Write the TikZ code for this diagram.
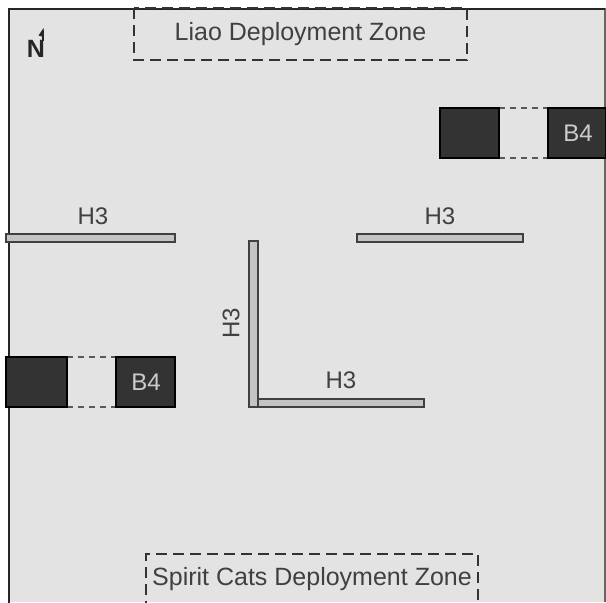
\documentclass[tikz,border=0pt]{standalone}
\usepackage{fontspec}
\setmainfont{Liberation Sans}
\usepackage{tikz}
\usetikzlibrary{arrows}

\definecolor{boardgray}{HTML}{E3E3E3}
\definecolor{wallgray}{HTML}{C4C4C4}
\definecolor{blockgray}{HTML}{333333}
\definecolor{textgray}{HTML}{404040}

\begin{document}
\begin{tikzpicture}[x=1pt,y=-1pt]

\tikzset{board/.style = {fill=boardgray}}
\tikzset{wall/.style = {draw=black!75,fill=wallgray,line width=2.4pt}}
\tikzset{block/.style = {draw=black,fill=blockgray,line width=1.6pt}}
\tikzset{gap/.style = {draw=black!65,line width=2.6pt,dash pattern=on 6pt off 5pt}}
\tikzset{zone/.style = {draw=black!80,line width=2.8pt,dash pattern=on 11pt off 6pt}}
\tikzset{label/.style = {text=textgray,font=\fontsize{24}{24}\selectfont,inner sep=0pt}}

\useasboundingbox (0,0) rectangle (606,603);

% board
\fill[white] (0,0) rectangle (606,603);
\fill[board] (8,8) rectangle (605,602);
\draw[black!60,line width=1.2pt] (605,8) -- (605,602);
\draw[black!85,line width=2.6pt] (9,603) -- (9,9) -- (605,9);

% north
\node[font=\bfseries\fontsize{25}{25}\selectfont,text=black!85,inner sep=0pt] (north) at (36,48.5) {N};
\draw[black!85,line width=2.4pt] (43,41) -- (43,30);
\fill[black!85] (43.5,28) -- (38.5,35.5) -- (43.5,37) -- cycle;

% zones
\draw[zone] (134,8) rectangle (467,60);
\node[label,font=\fontsize{25}{25}\selectfont] (liao) at (300.5,34) {Liao Deployment Zone};
\draw[zone] (146,612) -- (146,554) -- (478,554) -- (478,612);
\node[label,font=\fontsize{25}{25}\selectfont] (spirit) at (312,579) {Spirit Cats Deployment Zone};

% bunkers
\draw[gap] (499,108) -- (548,108);
\draw[gap] (499,158) -- (548,158);
\draw[block] (440,108) rectangle (499,158);
\draw[block] (548,108) rectangle (606,158);
\node[label,text=black!20] (b4a) at (578,133) {B4};

\draw[gap] (67,357) -- (116,357);
\draw[gap] (67,407) -- (116,407);
\draw[block] (6,357) rectangle (67,407);
\draw[block] (116,357) rectangle (175,407);
\node[label,text=black!20] (b4b) at (146,382) {B4};

% walls
\draw[wall] (6,234) rectangle (175,242);
\draw[wall] (357,234) rectangle (523,242);
\draw[wall] (249,241) rectangle (258,407);
\draw[wall] (258,399) rectangle (424,407);

% labels
\node[label] (h3a) at (93,216) {H3};
\node[label] (h3b) at (440,216) {H3};
\node[label,rotate=90] (h3c) at (231,323) {H3};
\node[label] (h3d) at (341,380) {H3};

\end{tikzpicture}
\end{document}
